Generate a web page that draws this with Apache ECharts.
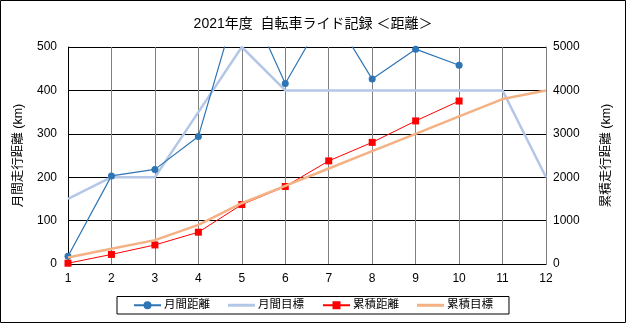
<!DOCTYPE html>
<html><head><meta charset="utf-8">
<script src="https://cdn.jsdelivr.net/npm/echarts@6/dist/echarts.min.js"></script>
<style>html,body{margin:0;padding:0;background:#fff}#c{width:626px;height:323px}</style>
</head><body><div id="c"></div>
<script>
const months = ['1','2','3','4','5','6','7','8','9','10','11','12'];
const monthlyDist = [18, 203, 218, 294, 637, 416, 590, 426, 495, 458];
const monthlyTarget = [150, 200, 200, 350, 500, 400, 400, 400, 400, 400, 400, 200];
const cumDist = [18, 221, 439, 733, 1370, 1786, 2376, 2802, 3297, 3755];
const cumTarget = [150, 350, 550, 900, 1400, 1800, 2200, 2600, 3000, 3400, 3800, 4000];
const leftTicks = [0, 500, 100];
const rightTicks = [0, 5000, 1000];

const FONT = 'Liberation Sans, "Noto Sans CJK JP", sans-serif';
const LINE_ICON = 'path://M0,0H27V3H0Z';
const chart = echarts.init(document.getElementById('c'));
chart.setOption({
  animation: false,
  textStyle: {fontFamily: FONT, color: '#000'},
  title: {text: '2021年度  自転車ライド記録 ＜距離＞', left: 'center', top: 12,
    textStyle: {fontSize: 14, fontWeight: 'normal', color: '#000', fontFamily: FONT}},
  graphic: [{type: 'rect', shape: {x: 0.5, y: 0.5, width: 625, height: 322},
    style: {fill: 'none', stroke: '#000', lineWidth: 1}, silent: true}],
  legend: {bottom: 9, left: 'center', itemWidth: 27, itemHeight: 10, itemGap: 18,
    padding: [3, 16], borderColor: '#000', borderWidth: 1,
    textStyle: {fontSize: 11.5, color: '#000', fontFamily: FONT, padding: [0, 0, 0, -2]},
    data: ['月間距離', {name: '月間目標', icon: LINE_ICON}, '累積距離', {name: '累積目標', icon: LINE_ICON}]},
  grid: {left: 68, right: 80, top: 47, bottom: 59},
  xAxis: {type: 'category', data: months, boundaryGap: false,
    axisLine: {show: true, lineStyle: {color: '#000'}}, axisTick: {show: false},
    axisLabel: {color: '#000', fontSize: 12, margin: 9},
    splitLine: {show: true, lineStyle: {color: '#808080', width: 1}}},
  yAxis: [
    {type: 'value', min: leftTicks[0], max: leftTicks[1], interval: leftTicks[2],
     name: '月間走行距離 (km)', nameLocation: 'middle', nameRotate: 90, nameGap: 43,
     nameTextStyle: {fontSize: 12.5, color: '#000'},
     axisLine: {show: true, lineStyle: {color: '#000'}}, axisTick: {show: false},
     axisLabel: {color: '#000', fontSize: 12, margin: 11},
     splitLine: {show: true, lineStyle: {color: '#000', width: 1}}},
    {type: 'value', min: rightTicks[0], max: rightTicks[1], interval: rightTicks[2],
     name: '累積走行距離 (km)', nameLocation: 'middle', nameRotate: 90, nameGap: 54,
     nameTextStyle: {fontSize: 12.5, color: '#000'},
     axisLine: {show: true, lineStyle: {color: '#808080'}}, axisTick: {show: false},
     axisLabel: {color: '#000', fontSize: 12, margin: 7, formatter: v => String(v)},
     splitLine: {show: false}}
  ],
  series: [
    {name: '月間距離', type: 'line', yAxisIndex: 0, data: monthlyDist, clip: true,
     symbol: 'circle', symbolSize: 7, color: '#2E75B6',
     lineStyle: {width: 1.2, color: '#2E75B6'}, itemStyle: {color: '#2E75B6'}, z: 3},
    {name: '月間目標', type: 'line', yAxisIndex: 0, data: monthlyTarget, clip: true,
     symbol: 'none', color: '#B4C7E7', lineStyle: {width: 2.5, color: '#B4C7E7'}, z: 2},
    {name: '累積距離', type: 'line', yAxisIndex: 1, data: cumDist, clip: true,
     symbol: 'rect', symbolSize: 7, color: '#FF0000',
     lineStyle: {width: 1, color: '#FF0000'}, itemStyle: {color: '#FF0000'}, z: 4},
    {name: '累積目標', type: 'line', yAxisIndex: 1, data: cumTarget, clip: true,
     symbol: 'none', color: '#F4B183', lineStyle: {width: 2.5, color: '#F4B183'}, z: 5}
  ]
});
</script></body></html>
